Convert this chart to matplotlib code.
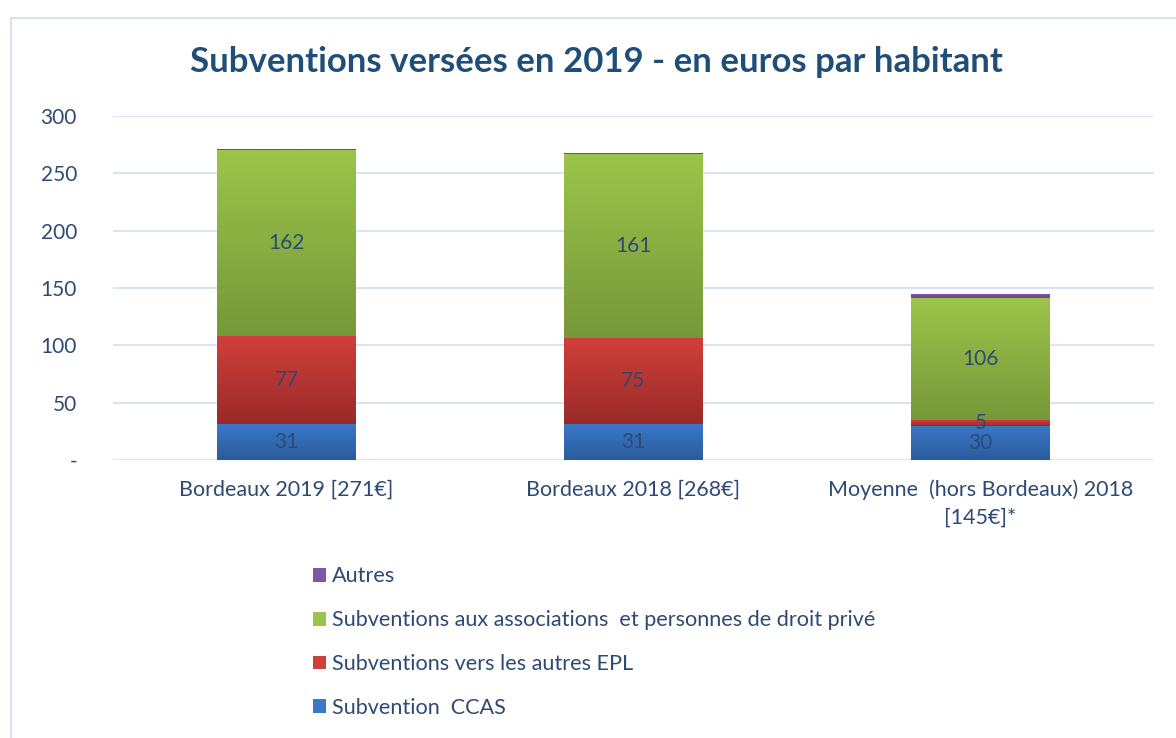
import numpy as np
import matplotlib
matplotlib.use('Agg')
import matplotlib.pyplot as plt
from matplotlib.colors import LinearSegmentedColormap
from matplotlib.patches import Rectangle

plt.rcParams['font.family'] = ['Lato', 'DejaVu Sans']

categories = ['Bordeaux 2019 [271€]', 'Bordeaux 2018 [268€]',
              'Moyenne  (hors Bordeaux) 2018\n[145€]*']
ccas = [31, 31, 30]
epl = [77, 75, 5]
assoc = [162, 161, 106]
autres = [1, 1, 4]

series = [
    ('Subvention  CCAS', ccas, '#3A78C8', '#2A5C9C', True),
    ('Subventions vers les autres EPL', epl, '#D13F3B', '#992A29', True),
    ('Subventions aux associations  et personnes de droit privé', assoc, '#9CC44A', '#76983A', True),
    ('Autres', autres, '#8057A6', '#6B4690', False),
]

text_col = '#2E4A74'
fig = plt.figure(figsize=(11.76, 7.38), dpi=100)
# outer chart frame
fig.add_artist(Rectangle((11 / 1176, -0.1), 1.2, 1 - 18 / 738 + 0.1, transform=fig.transFigure,
                         fill=False, edgecolor='#D6E3F3', lw=1.5))

ax = fig.add_axes([113 / 1176, 1 - 460 / 738, 1041 / 1176, 344 / 738])
x = np.arange(len(categories))
bottom = np.zeros(len(categories))
grad = np.linspace(0, 1, 100).reshape(-1, 1)
for name, vals, top_c, bot_c, show in series:
    bars = ax.bar(x, vals, 0.4, bottom=bottom, color=top_c, label=name, zorder=3)
    cmap = LinearSegmentedColormap.from_list(name, [bot_c, top_c])
    for b in bars:
        x0, y0 = b.get_x(), b.get_y()
        im = ax.imshow(grad, cmap=cmap, aspect='auto', origin='lower', zorder=3.5,
                       extent=(x0, x0 + b.get_width(), y0, y0 + b.get_height()))
        im.set_clip_path(b)
    if show:
        for xi, b0, v in zip(x, bottom, vals):
            ax.text(xi, b0 + v / 2, str(v), ha='center', va='center', fontsize=15,
                    color=text_col, zorder=5)
    bottom = bottom + np.array(vals)

ax.set_xlim(-0.5, 2.5)
ax.set_ylim(0, 300)
ax.set_yticks(range(0, 301, 50))
ax.set_yticklabels(['-'] + [str(v) for v in range(50, 301, 50)])
ax.set_xticks(x)
ax.set_xticklabels(categories, linespacing=1.45)
ax.tick_params(axis='y', length=0, pad=26, labelsize=15, labelcolor=text_col)
ax.tick_params(axis='x', length=0, pad=14, labelsize=15.5, labelcolor=text_col)
for lbl in ax.get_yticklabels():
    lbl.set_horizontalalignment('right')
ax.grid(axis='y', color='#D9E4F4', lw=1.5, zorder=0)
for s in ax.spines.values():
    s.set_visible(False)

fig.text(596 / 1176, 1 - 62 / 738, 'Subventions versées en 2019 - en euros par habitant',
         ha='center', va='center', fontsize=25, fontweight='bold', color='#1F4E79')

handles, labels = ax.get_legend_handles_labels()
leg = fig.legend(handles[::-1], labels[::-1], loc='upper left',
                 bbox_to_anchor=(293 / 1176, 1 - 547 / 738), frameon=False,
                 fontsize=15.6, labelspacing=1.1, handlelength=0.6, handleheight=0.6,
                 handletextpad=0.3)
for t in leg.get_texts():
    t.set_color(text_col)

fig.savefig('out.png', dpi=100)
